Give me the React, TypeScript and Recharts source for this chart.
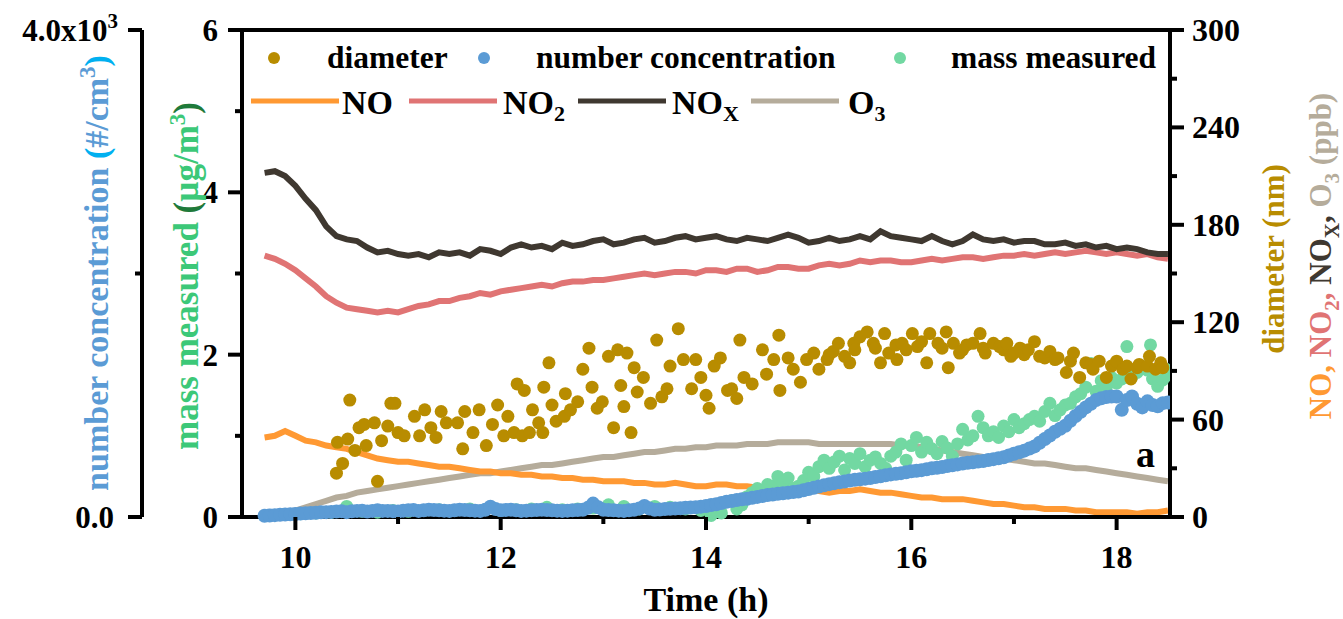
import React from 'react';
import { ComposedChart, XAxis, YAxis, Line, Scatter, ReferenceLine } from 'recharts';

const FONT = "'Liberation Serif', 'Times New Roman', serif";

const X_TICKS = [10, 11, 12, 13, 14, 15, 16, 17, 18];
const MASS_TICKS = [0, 1, 2, 3, 4, 5, 6];
const NUM_TICKS = [0, 2000, 4000];
const PPB_TICKS = [0, 30, 60, 90, 120, 150, 180, 210, 240, 270, 300];

// gas lines (ppb), sampled every 0.1 h
const GAS_TIME = [
  9.7, 9.8, 9.9, 10.0, 10.1, 10.2, 10.3, 10.4, 10.5, 10.6, 10.7, 10.8, 10.9, 11.0,
  11.1, 11.2, 11.3, 11.4, 11.5, 11.6, 11.7, 11.8, 11.9, 12.0,
  12.1, 12.2, 12.3, 12.4, 12.5, 12.6, 12.7, 12.8, 12.9, 13.0,
  13.1, 13.2, 13.3, 13.4, 13.5, 13.6, 13.7, 13.8, 13.9, 14.0,
  14.1, 14.2, 14.3, 14.4, 14.5, 14.6, 14.7, 14.8, 14.9, 15.0,
  15.1, 15.2, 15.3, 15.4, 15.5, 15.6, 15.7, 15.8, 15.9, 16.0,
  16.1, 16.2, 16.3, 16.4, 16.5, 16.6, 16.7, 16.8, 16.9, 17.0,
  17.1, 17.2, 17.3, 17.4, 17.5, 17.6, 17.7, 17.8, 17.9, 18.0,
  18.1, 18.2, 18.3, 18.4, 18.5,
];
const NOX = [
  212, 213, 210, 204, 196, 189, 179, 173, 171, 170, 166, 163, 164, 162,
  161, 162, 160, 163, 162, 163, 161, 165, 164, 162,
  166, 168, 166, 167, 165, 169, 167, 168, 170, 171,
  168, 169, 171, 172, 169, 170, 172, 173, 171, 172,
  173, 171, 170, 172, 171, 170, 172, 174, 172, 169,
  170, 172, 170, 171, 173, 171, 176, 173, 172, 171,
  170, 173, 170, 168, 170, 174, 171, 170, 171, 169,
  170, 170, 168, 168, 169, 167, 168, 166, 167, 165,
  166, 165, 163, 162, 162,
];
const NO2 = [
  161, 159, 156, 152, 147, 142, 136, 132, 129, 128, 127, 126, 127, 126,
  128, 130, 131, 133, 133, 135, 136, 138, 137, 139,
  140, 141, 142, 143, 142, 144, 145, 145, 146, 146,
  147, 148, 149, 150, 149, 150, 151, 151, 150, 152,
  152, 151, 153, 153, 151, 152, 154, 154, 153, 153,
  155, 156, 155, 156, 158, 157, 158, 158, 157, 157,
  158, 159, 158, 159, 160, 160, 159, 160, 161, 161,
  162, 161, 162, 163, 162, 163, 164, 163, 162, 163,
  162, 161, 162, 160, 159,
];
const NO = [
  49, 50, 53, 50, 47, 46, 44, 43, 42, 40, 38, 36, 35, 34,
  34, 33, 32, 31, 31, 30, 29, 28, 28, 27,
  27, 26, 26, 25, 25, 24, 24, 23, 23, 22,
  22, 22, 21, 21, 20, 20, 21, 20, 19, 19,
  20, 20, 19, 19, 18, 18, 21, 19, 17, 17,
  16, 15, 16, 16, 17, 16, 15, 15, 14, 13,
  12, 12, 11, 11, 11, 10, 9, 8, 8, 7,
  6, 6, 5, 5, 5, 4, 4, 3, 3, 3,
  3, 2, 3, 3, 4,
];
const O3 = [
  3, 1, 3, 4, 6, 8, 10, 12, 13, 15, 16, 17, 18, 19,
  20, 21, 22, 23, 24, 25, 26, 27, 27, 28,
  29, 30, 31, 32, 32, 33, 34, 35, 36, 37,
  37, 38, 39, 40, 40, 41, 42, 42, 43, 43,
  44, 44, 44, 45, 45, 45, 46, 46, 46, 46,
  45, 45, 45, 45, 45, 45, 45, 45, 44, 44,
  43, 42, 41, 40, 39, 38, 37, 36, 36, 35,
  34, 33, 33, 32, 31, 30, 30, 29, 28, 27,
  26, 25, 24, 23, 22,
];

// particle diameter (nm) [time, value]
const DIAMETER: [number, number][] = [
  [10.40, 27], [10.46, 33], [10.41, 46], [10.51, 48], [10.53, 72], [10.58, 41], [10.62, 55], [10.69, 44],
  [10.67, 57], [10.77, 58], [10.84, 47], [10.80, 22], [10.90, 56], [10.93, 70], [10.97, 70], [11.00, 52],
  [11.06, 50], [11.16, 62], [11.21, 50], [11.26, 66], [11.32, 55], [11.37, 49], [11.42, 65], [11.47, 58],
  [11.58, 58], [11.63, 42], [11.65, 65], [11.73, 52], [11.79, 66], [11.86, 44], [11.92, 57], [11.97, 69],
  [12.03, 50], [12.07, 62], [12.16, 82], [12.23, 78], [12.13, 52], [12.21, 50], [12.28, 52], [12.31, 66],
  [12.37, 58], [12.41, 52], [12.42, 80], [12.47, 95], [12.50, 69], [12.54, 59], [12.62, 62], [12.63, 76],
  [12.68, 66], [12.75, 71], [12.80, 91], [12.86, 104], [12.89, 80], [12.94, 67], [12.99, 71], [13.05, 99],
  [13.10, 55], [13.14, 103], [13.17, 81], [13.20, 68], [13.23, 101], [13.27, 52], [13.30, 92], [13.33, 77],
  [13.39, 86], [13.46, 70], [13.52, 109], [13.57, 74], [13.62, 79], [13.65, 93], [13.73, 116], [13.78, 97],
  [13.86, 79], [13.90, 97], [13.95, 86], [14.00, 75], [14.03, 67], [14.08, 93], [14.14, 98], [14.21, 78],
  [14.25, 79], [14.30, 73], [14.33, 109], [14.37, 86], [14.45, 82], [14.55, 103], [14.59, 88], [14.66, 97],
  [14.71, 112], [14.72, 78], [14.80, 98], [14.85, 91], [14.92, 83], [14.98, 97], [15.05, 101], [15.10, 91],
  [15.18, 97], [15.20, 100], [15.24, 102], [15.29, 107], [15.35, 99], [15.40, 95], [15.44, 107], [15.45, 103],
  [15.50, 111], [15.57, 114], [15.63, 107], [15.65, 104], [15.70, 95], [15.74, 113], [15.78, 101], [15.85, 106],
  [15.86, 97], [15.91, 107], [15.95, 103], [16.01, 113], [16.06, 105], [16.10, 108], [16.15, 95], [16.18, 113],
  [16.26, 107], [16.30, 104], [16.34, 114], [16.36, 92], [16.41, 107], [16.47, 101], [16.50, 103], [16.54, 106],
  [16.60, 107], [16.67, 113], [16.70, 104], [16.72, 101], [16.80, 107], [16.86, 105], [16.90, 103], [16.93, 107],
  [16.97, 99], [17.00, 101], [17.06, 104], [17.10, 100], [17.14, 103], [17.20, 108], [17.25, 99], [17.30, 98],
  [17.35, 102], [17.40, 97], [17.43, 98], [17.51, 89], [17.55, 96], [17.58, 101], [17.64, 86], [17.70, 95],
  [17.75, 94], [17.77, 91], [17.83, 96], [17.90, 86], [17.95, 93], [18.00, 96], [18.06, 91], [18.10, 93],
  [18.14, 85], [18.20, 92], [18.22, 94], [18.30, 93], [18.32, 99], [18.38, 91], [18.43, 95], [18.45, 92],
];

// number concentration (#/cm3) [time, value]
const NUMBER_CONC: [number, number][] = [
  [9.70, 10], [9.75, 12], [9.80, 15], [9.85, 18], [9.90, 20], [9.95, 22], [10.00, 25], [10.05, 28],
  [10.10, 30], [10.15, 33], [10.20, 35], [10.25, 38], [10.30, 40], [10.35, 42], [10.40, 45], [10.45, 48],
  [10.50, 40], [10.55, 47], [10.60, 50], [10.65, 52], [10.70, 45], [10.75, 50], [10.80, 55], [10.85, 50],
  [10.90, 50], [10.95, 48], [11.00, 45], [11.05, 52], [11.10, 55], [11.15, 58], [11.20, 50], [11.25, 55],
  [11.30, 60], [11.35, 57], [11.40, 55], [11.45, 52], [11.50, 50], [11.55, 55], [11.60, 60], [11.65, 58],
  [11.70, 55], [11.75, 52], [11.80, 50], [11.85, 60], [11.90, 85], [11.95, 65], [12.00, 55], [12.05, 58],
  [12.10, 60], [12.15, 55], [12.20, 50], [12.25, 52], [12.30, 55], [12.35, 58], [12.40, 60], [12.45, 58],
  [12.50, 55], [12.55, 52], [12.60, 50], [12.65, 52], [12.70, 55], [12.75, 58], [12.80, 60], [12.85, 75],
  [12.90, 110], [12.95, 80], [13.00, 60], [13.05, 58], [13.10, 55], [13.15, 52], [13.20, 50], [13.25, 55],
  [13.30, 60], [13.35, 70], [13.40, 90], [13.45, 70], [13.50, 60], [13.55, 62], [13.60, 65], [13.65, 68],
  [13.70, 70], [13.75, 72], [13.80, 75], [13.85, 78], [13.90, 80], [13.95, 85], [14.00, 90], [14.05, 98],
  [14.10, 105], [14.15, 115], [14.20, 125], [14.25, 132], [14.30, 140], [14.35, 145], [14.40, 150], [14.45, 158],
  [14.50, 165], [14.55, 172], [14.60, 180], [14.65, 185], [14.70, 190], [14.75, 195], [14.80, 200], [14.85, 205],
  [14.90, 210], [14.95, 220], [15.00, 230], [15.05, 240], [15.10, 250], [15.15, 260], [15.20, 270], [15.25, 278],
  [15.30, 285], [15.35, 292], [15.40, 300], [15.45, 305], [15.50, 310], [15.55, 315], [15.60, 320], [15.65, 328],
  [15.70, 335], [15.75, 342], [15.80, 350], [15.85, 355], [15.90, 360], [15.95, 368], [16.00, 375], [16.05, 380],
  [16.10, 385], [16.15, 392], [16.20, 400], [16.25, 405], [16.30, 410], [16.35, 418], [16.40, 425], [16.45, 432],
  [16.50, 440], [16.55, 445], [16.60, 450], [16.65, 455], [16.70, 460], [16.75, 468], [16.80, 475], [16.85, 482],
  [16.90, 490], [16.95, 505], [17.00, 520], [17.05, 532], [17.10, 545], [17.15, 562], [17.20, 580], [17.25, 610],
  [17.30, 640], [17.35, 670], [17.40, 700], [17.45, 725], [17.50, 750], [17.55, 790], [17.60, 830], [17.65, 865],
  [17.70, 900], [17.75, 930], [17.80, 960], [17.85, 975], [17.90, 985], [17.95, 990], [18.00, 990], [18.05, 880],
  [18.10, 960], [18.15, 990], [18.20, 930], [18.25, 900], [18.30, 950], [18.35, 920], [18.40, 910], [18.45, 935],
  [18.50, 940],
];

// mass measured (ug/m3) [time, value]
const MASS: [number, number][] = [
  [9.75, 0.02], [9.9, 0.03], [10.05, 0.04], [10.2, 0.05], [10.35, 0.06], [10.5, 0.13], [10.65, 0.07],
  [10.8, 0.06], [10.95, 0.08], [11.1, 0.07], [11.25, 0.08], [11.4, 0.09], [11.55, 0.08], [11.7, 0.1],
  [11.85, 0.09], [12.0, 0.08], [12.15, 0.09], [12.3, 0.1], [12.45, 0.12], [12.6, 0.09], [12.75, 0.1],
  [12.9, 0.11], [13.05, 0.15], [13.2, 0.13], [13.35, 0.1], [13.5, 0.13], [13.65, 0.12], [13.8, 0.1],
  [13.95, 0.08], [14.05, 0.02], [14.15, 0.05], [14.25, 0.2], [14.3, 0.1], [14.35, 0.15], [14.4, 0.25],
  [14.45, 0.3], [14.5, 0.35], [14.55, 0.28], [14.6, 0.4], [14.65, 0.38], [14.7, 0.5], [14.75, 0.42],
  [14.8, 0.48], [14.85, 0.35], [14.9, 0.38], [14.95, 0.45], [15.0, 0.55], [15.05, 0.5], [15.1, 0.62],
  [15.15, 0.7], [15.2, 0.6], [15.25, 0.68], [15.3, 0.75], [15.35, 0.58], [15.4, 0.72], [15.45, 0.66],
  [15.5, 0.78], [15.55, 0.62], [15.6, 0.7], [15.65, 0.74], [15.7, 0.66], [15.75, 0.6], [15.8, 0.75],
  [15.85, 0.8], [15.9, 0.9], [15.95, 0.7], [16.0, 0.88], [16.05, 0.98], [16.1, 0.8], [16.15, 0.92],
  [16.2, 0.84], [16.25, 0.78], [16.3, 0.93], [16.35, 0.85], [16.4, 0.75], [16.45, 0.9], [16.5, 1.08],
  [16.55, 0.95], [16.6, 1.0], [16.65, 1.24], [16.7, 1.1], [16.75, 1.0], [16.8, 1.05], [16.85, 0.98],
  [16.9, 1.12], [16.95, 1.05], [17.0, 1.2], [17.05, 1.1], [17.1, 1.15], [17.15, 1.2], [17.2, 1.24],
  [17.25, 1.18], [17.3, 1.3], [17.35, 1.4], [17.4, 1.25], [17.45, 1.32], [17.5, 1.38], [17.55, 1.4],
  [17.6, 1.48], [17.65, 1.52], [17.7, 1.6], [17.75, 1.89], [17.8, 1.55], [17.85, 1.68], [17.9, 1.6],
  [17.95, 1.72], [18.0, 1.65], [18.05, 1.7], [18.1, 2.1], [18.15, 1.73], [18.2, 1.78], [18.25, 1.85],
  [18.3, 1.81], [18.33, 2.12], [18.35, 1.7], [18.4, 1.61], [18.45, 1.69], [18.48, 1.82], [18.5, 1.75],
];

const C = {
  diameter: '#B88C00',
  number: '#5B9BD5',
  mass: '#72D8A2',
  no: '#FF9933',
  no2: '#E07474',
  nox: '#3F3830',
  o3: '#B5AC9B',
};

const gasData = GAS_TIME.map((t, i) => ({ t, no: NO[i], no2: NO2[i], nox: NOX[i], o3: O3[i] }));
const toPts = (arr: [number, number][]) => arr.map(([t, v]) => ({ t, v }));

const dotShape = (color: string, r = 6.5) => (p: any) =>
  p.cx == null ? <g /> : <circle cx={p.cx} cy={p.cy} r={r} fill={color} />;

const numStyle: React.CSSProperties = { fontFamily: FONT, fontWeight: 700, fontSize: 31, fill: '#000' };

const XTick = ({ x, y, payload }: any) => {
  const major = payload.value % 2 === 0;
  return (
    <g>
      <line x1={x} x2={x} y1={y} y2={y + (major ? 13 : 7)} stroke="#000" strokeWidth={4} />
      {major && (
        <text x={x} y={y + 51} textAnchor="middle" style={{ ...numStyle, fontSize: 32 }}>
          {payload.value}
        </text>
      )}
    </g>
  );
};

const MassTick = ({ x, y, payload }: any) => {
  const major = payload.value % 2 === 0;
  return (
    <g>
      <line x1={x} x2={x - (major ? 14 : 7)} y1={y} y2={y} stroke="#000" strokeWidth={4} />
      {major && (
        <text x={x - 24} y={y + 11} textAnchor="end" style={numStyle}>
          {payload.value}
        </text>
      )}
    </g>
  );
};

const NumTick = ({ x, y, payload }: any) => {
  const v = payload.value;
  const major = v !== 2000;
  return (
    <g>
      <line x1={x} x2={x - (major ? 14 : 7)} y1={y} y2={y} stroke="#000" strokeWidth={4} />
      {v === 0 && (
        <text x={x - 28} y={y + 11} textAnchor="end" style={numStyle}>0.0</text>
      )}
      {v === 4000 && (
        <text x={x - 24} y={y + 11} textAnchor="end" style={numStyle}>
          4.0x10<tspan dy={-13} fontSize={21}>3</tspan>
        </text>
      )}
    </g>
  );
};

const PpbTick = ({ x, y, payload }: any) => {
  const major = payload.value % 60 === 0;
  return (
    <g>
      <line x1={x} x2={x + (major ? 14 : 7)} y1={y} y2={y} stroke="#000" strokeWidth={4} />
      {major && (
        <text x={x + 22} y={y + 11} textAnchor="start" style={{ ...numStyle, fontSize: 32 }}>
          {payload.value}
        </text>
      )}
    </g>
  );
};

const titleStyle: React.CSSProperties = { fontFamily: FONT, fontWeight: 700, fontSize: 31 };

function Overlay() {
  return (
    <svg width={1343} height={619} style={{ position: 'absolute', left: 0, top: 0, pointerEvents: 'none' }}>
      {/* left titles */}
      <text transform="translate(108,273) rotate(-90)" textAnchor="middle" style={{ ...titleStyle, fontSize: 34 }}>
        <tspan fill={C.number}>number concentration </tspan>
        <tspan fill="#00B0F0">(</tspan>
        <tspan fill={C.number}>#/cm</tspan>
        <tspan fill={C.number} dy={-13} fontSize={23}>3</tspan>
        <tspan fill="#00B0F0" dy={13}>)</tspan>
      </text>
      <text transform="translate(198,276) rotate(-90)" textAnchor="middle" style={{ ...titleStyle, fontSize: 35 }}>
        <tspan fill="#3CC878">mass measured </tspan>
        <tspan fill="#1F7A3A">(</tspan>
        <tspan fill="#3CC878">µg/m</tspan>
        <tspan fill="#3CC878" dy={-13} fontSize={23}>3</tspan>
        <tspan fill="#1F7A3A" dy={13}>)</tspan>
      </text>
      {/* right titles */}
      <text transform="translate(1284,259) rotate(-90)" textAnchor="middle" style={titleStyle}>
        <tspan fill={C.diameter}>diameter (nm)</tspan>
      </text>
      <text transform="translate(1331,256) rotate(-90)" textAnchor="middle" style={titleStyle}>
        <tspan fill={C.no}>NO, </tspan>
        <tspan fill={C.no2}>NO</tspan>
        <tspan fill={C.no2} dy={8} fontSize={21}>2</tspan>
        <tspan fill={C.no2} dy={-8}>, </tspan>
        <tspan fill={C.nox}>NO</tspan>
        <tspan fill={C.nox} dy={8} fontSize={21}>X</tspan>
        <tspan fill={C.nox} dy={-8}>, </tspan>
        <tspan fill={C.o3}>O</tspan>
        <tspan fill={C.o3} dy={8} fontSize={21}>3</tspan>
        <tspan fill={C.o3} dy={-8}> (ppb)</tspan>
      </text>
      {/* legend row 1 */}
      <g style={{ ...titleStyle, fontSize: 31.5 }}>
        <circle cx={274} cy={58} r={6} fill={C.diameter} />
        <text x={327} y={68} fill="#000">diameter</text>
        <circle cx={484} cy={58} r={6} fill={C.number} />
        <text x={536} y={68} fill="#000">number concentration</text>
        <circle cx={900} cy={58} r={6} fill={C.mass} />
        <text x={951} y={68} fill="#000">mass measured</text>
      </g>
      {/* legend row 2 */}
      <g style={{ ...titleStyle, fontSize: 34 }}>
        <line x1={251} x2={339} y1={101} y2={101} stroke={C.no} strokeWidth={5} />
        <text x={342} y={114} fill="#000">NO</text>
        <line x1={409} x2={497} y1={101} y2={101} stroke={C.no2} strokeWidth={5} />
        <text x={503} y={114} fill="#000">NO<tspan dy={7} fontSize={22}>2</tspan></text>
        <line x1={578} x2={666} y1={101} y2={101} stroke={C.nox} strokeWidth={5} />
        <text x={672} y={114} fill="#000">NO<tspan dy={7} fontSize={22}>X</tspan></text>
        <line x1={751} x2={839} y1={101} y2={101} stroke={C.o3} strokeWidth={5} />
        <text x={848} y={114} fill="#000">O<tspan dy={7} fontSize={22}>3</tspan></text>
      </g>
      <text x={1136} y={467} style={{ ...titleStyle, fontSize: 38 }} fill="#000">a</text>
    </svg>
  );
}

export default function App() {
  return (
    <div style={{ position: 'absolute', left: 0, top: 0, width: 1343, height: 619, background: '#fff' }}>
      <ComposedChart width={1343} height={619} margin={{ top: 30, right: 0, bottom: 0, left: 0 }}>
        <XAxis
          xAxisId="t"
          type="number"
          dataKey="t"
          domain={[9.48, 18.52]}
          allowDataOverflow
          ticks={X_TICKS}
          interval={0}
          height={102}
          tickSize={0}
          tickMargin={0}
          tickLine={false}
          tick={<XTick />}
          axisLine={{ stroke: '#000', strokeWidth: 4 }}
          label={{ value: 'Time (h)', position: 'insideBottom', offset: 8, style: { ...titleStyle, fontSize: 34, fill: '#000' } }}
        />
        <YAxis
          yAxisId="mass"
          orientation="left"
          type="number"
          domain={[0, 6]}
          ticks={MASS_TICKS}
          interval={0}
          width={100}
          tickSize={0}
          tickMargin={0}
          tickLine={false}
          tick={<MassTick />}
          axisLine={{ stroke: '#000', strokeWidth: 4 }}
        />
        <YAxis
          yAxisId="num"
          orientation="left"
          type="number"
          domain={[0, 4000]}
          ticks={NUM_TICKS}
          interval={0}
          width={142}
          tickSize={0}
          tickMargin={0}
          tickLine={false}
          tick={<NumTick />}
          axisLine={{ stroke: '#000', strokeWidth: 4 }}
        />
        <YAxis
          yAxisId="ppb"
          orientation="right"
          type="number"
          domain={[0, 300]}
          ticks={PPB_TICKS}
          interval={0}
          width={173}
          tickSize={0}
          tickMargin={0}
          tickLine={false}
          tick={<PpbTick />}
          axisLine={{ stroke: '#000', strokeWidth: 4 }}
        />
        <ReferenceLine xAxisId="t" yAxisId="mass" y={6} stroke="#000" strokeWidth={4} />

        <Scatter name="mass measured" data={toPts(MASS)} dataKey="v" xAxisId="t" yAxisId="mass"
          shape={dotShape(C.mass)} isAnimationActive={false} />
        <Line name="O3" data={gasData} dataKey="o3" xAxisId="t" yAxisId="ppb" stroke={C.o3}
          strokeWidth={6} dot={false} isAnimationActive={false} />
        <Scatter name="number concentration" data={toPts(NUMBER_CONC)} dataKey="v" xAxisId="t" yAxisId="num"
          shape={dotShape(C.number, 7)} isAnimationActive={false} />
        <Line name="NO" data={gasData} dataKey="no" xAxisId="t" yAxisId="ppb" stroke={C.no}
          strokeWidth={6} dot={false} isAnimationActive={false} />
        <Line name="NO2" data={gasData} dataKey="no2" xAxisId="t" yAxisId="ppb" stroke={C.no2}
          strokeWidth={6} dot={false} isAnimationActive={false} />
        <Line name="NOX" data={gasData} dataKey="nox" xAxisId="t" yAxisId="ppb" stroke={C.nox}
          strokeWidth={6} dot={false} isAnimationActive={false} />
        <Scatter name="diameter" data={toPts(DIAMETER)} dataKey="v" xAxisId="t" yAxisId="ppb"
          shape={dotShape(C.diameter)} isAnimationActive={false} />
      </ComposedChart>
      <Overlay />
    </div>
  );
}
